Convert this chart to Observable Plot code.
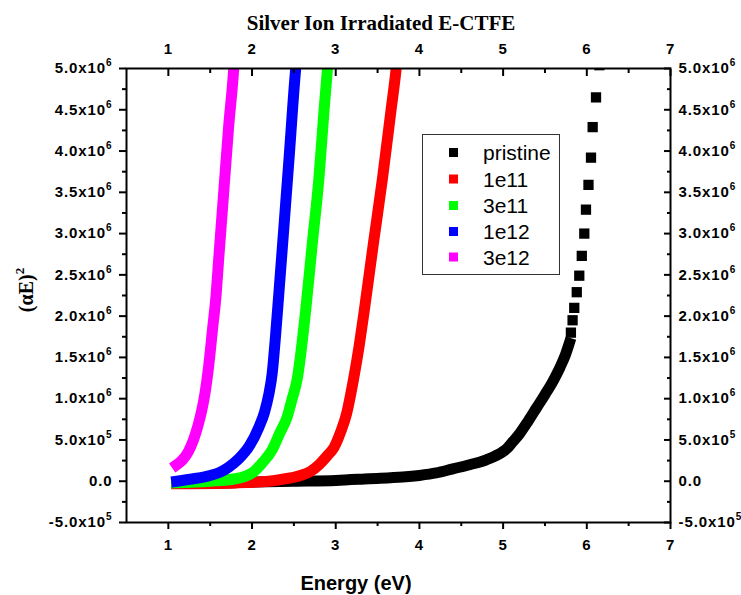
<!DOCTYPE html>
<html><head><meta charset="utf-8">
<script src="https://cdn.jsdelivr.net/npm/d3@7"></script>
<script src="https://cdn.jsdelivr.net/npm/@observablehq/plot@0.6"></script>
<style>
body{margin:0;background:#fff;}
#chart svg{display:block;}
#chart svg g[aria-label$="tick label"] text{letter-spacing:0.9px;}
</style>
</head><body><div id="chart"></div>
<script>
// ---- data (y values in units of 10^6) ----
const seriesNames = ["pristine", "1e11", "3e11", "1e12", "3e12"];
const seriesColors = ["#000000", "#ff0000", "#00ff00", "#0000ff", "#ff00ff"];

const pristineE = [1.10, 1.6, 2.0, 2.5, 3.0, 3.4, 3.8, 4.0, 4.2, 4.4, 4.6, 4.8, 5.0, 5.05, 5.1, 5.2, 5.3, 5.4, 5.5, 5.6, 5.68, 5.74, 5.79];
const pristineV = [-0.02, -0.02, -0.01, 0.0, 0.01, 0.03, 0.05, 0.07, 0.10, 0.15, 0.20, 0.26, 0.36, 0.40, 0.46, 0.58, 0.73, 0.89, 1.05, 1.22, 1.38, 1.52, 1.67];
const pristineTailE = [5.81, 5.83, 5.85, 5.88, 5.91, 5.94, 5.97, 5.99, 6.02, 6.05, 6.07, 6.11, 6.15];
const pristineTailV = [1.80, 1.95, 2.10, 2.29, 2.49, 2.73, 3.00, 3.29, 3.59, 3.92, 4.29, 4.65, 5.04];

const e11E = [1.10, 1.8, 2.2, 2.4, 2.58, 2.70, 2.80, 2.90, 2.98, 3.06, 3.13, 3.21, 3.28, 3.34, 3.45, 3.56, 3.66, 3.72, 3.75];
const e11V = [-0.03, -0.02, 0.0, 0.03, 0.07, 0.12, 0.20, 0.31, 0.41, 0.60, 0.82, 1.22, 1.64, 2.06, 2.88, 3.68, 4.49, 4.98, 5.3];

const e3e11E = [1.10, 1.5, 1.8, 2.0, 2.12, 2.24, 2.33, 2.42, 2.48, 2.54, 2.64, 2.72, 2.80, 2.86, 2.90, 2.93];
const e3e11V = [-0.02, 0.0, 0.03, 0.10, 0.22, 0.38, 0.58, 0.78, 1.00, 1.24, 2.06, 2.88, 3.68, 4.49, 4.98, 5.3];

const e12E = [1.10, 1.3, 1.5, 1.62, 1.72, 1.84, 1.97, 2.08, 2.15, 2.20, 2.24, 2.28, 2.32, 2.38, 2.44, 2.52, 2.55];
const e12V = [0.0, 0.03, 0.07, 0.11, 0.17, 0.27, 0.43, 0.65, 0.84, 1.05, 1.30, 1.75, 2.27, 3.07, 3.88, 4.98, 5.3];

const e3e12E = [1.10, 1.17, 1.24, 1.30, 1.35, 1.40, 1.44, 1.48, 1.53, 1.57, 1.60, 1.66, 1.72, 1.78, 1.80];
const e3e12V = [0.20, 0.26, 0.36, 0.50, 0.66, 0.86, 1.08, 1.38, 1.86, 2.25, 2.67, 3.48, 4.29, 4.98, 5.3];

const xTicks = [1, 2, 3, 4, 5, 6, 7];
const xMinorTicks = [1.5, 2.5, 3.5, 4.5, 5.5, 6.5];
const yTicks = [-0.5, 0, 0.5, 1, 1.5, 2, 2.5, 3, 3.5, 4, 4.5, 5];
const yTickLabels = ["-5.0x10^5", "0.0", "5.0x10^5", "1.0x10^6", "1.5x10^6", "2.0x10^6", "2.5x10^6", "3.0x10^6", "3.5x10^6", "4.0x10^6", "4.5x10^6", "5.0x10^6"];
const yMinorTicks = [-0.25, 0.25, 0.75, 1.25, 1.75, 2.25, 2.75, 3.25, 3.75, 4.25, 4.75];

// ---- build tables ----
const seriesE = [pristineE, e11E, e3e11E, e12E, e3e12E];
const seriesV = [pristineV, e11V, e3e11V, e12V, e3e12V];
const rows = [];
seriesNames.forEach((s, k) => seriesE[k].forEach((E, i) => rows.push({E, v: seriesV[k][i], s})));
const tail = pristineTailE.map((E, i) => ({E, v: pristineTailV[i], s: "pristine"}));

const yLabel = d => yTickLabels[yTicks.indexOf(d)];

const svg = Plot.plot({
  width: 741,
  height: 595,
  marginLeft: 126,
  marginRight: 71,
  marginTop: 68,
  marginBottom: 73,
  style: {fontFamily: "'Liberation Sans', Arial, sans-serif", fontSize: "15px", fontWeight: "bold", color: "black", background: "white"},
  x: {domain: [0.5, 7]},
  y: {domain: [-0.5, 5]},
  color: {domain: seriesNames, range: seriesColors},
  marks: [
    Plot.line(rows, {x: "E", y: "v", z: "s", stroke: "s", strokeWidth: 11, strokeLinecap: "square", strokeLinejoin: "round", curve: "monotone-x", clip: true}),
    Plot.dot(tail, {x: "E", y: "v", fill: "s", symbol: "square", r: 5.8, clip: true}),
    // bottom axis
    Plot.axisX({anchor: "bottom", ticks: xTicks, tickSize: 7, strokeWidth: 2, fill: "none", label: null}),
    Plot.axisX({anchor: "bottom", ticks: xMinorTicks, tickSize: 4, strokeWidth: 2, fill: "none", label: null}),
    Plot.axisX({anchor: "bottom", ticks: xTicks, tickSize: 0, tickPadding: 17, tickFormat: d => String(d), label: null}),
    // top axis
    Plot.axisX({anchor: "top", ticks: xTicks, tickSize: -7, strokeWidth: 2, fill: "none", label: null}),
    Plot.axisX({anchor: "top", ticks: xMinorTicks, tickSize: -4, strokeWidth: 2, fill: "none", label: null}),
    Plot.axisX({anchor: "top", ticks: xTicks, tickSize: 0, tickPadding: 15, tickFormat: d => String(d), label: null}),
    // left axis
    Plot.axisY({anchor: "left", ticks: yTicks, tickSize: 7, strokeWidth: 2, fill: "none", label: null}),
    Plot.axisY({anchor: "left", ticks: yMinorTicks, tickSize: 4, strokeWidth: 2, fill: "none", label: null}),
    Plot.axisY({anchor: "left", ticks: yTicks, tickSize: 0, tickPadding: 14, tickFormat: yLabel, label: null}),
    // right axis
    Plot.axisY({anchor: "right", ticks: yTicks, tickSize: -7, strokeWidth: 2, fill: "none", label: null}),
    Plot.axisY({anchor: "right", ticks: yMinorTicks, tickSize: -4, strokeWidth: 2, fill: "none", label: null}),
    Plot.axisY({anchor: "right", ticks: yTicks, tickSize: 0, tickPadding: 8, tickFormat: yLabel, label: null}),
    Plot.frame({stroke: "black", strokeWidth: 2})
  ]
});
document.getElementById("chart").appendChild(svg);

const S = d3.select(svg);
// superscripts in y tick labels
S.selectAll('g[aria-label="y-axis tick label"] text').each(function () {
  const t = this.textContent;
  const i = t.indexOf("^");
  if (i < 0) return;
  this.textContent = t.slice(0, i);
  d3.select(this).append("tspan").attr("dy", -7).attr("font-size", 10).text(t.slice(i + 1));
});

// title
S.append("text").attr("x", 381).attr("y", 30).attr("text-anchor", "middle")
  .attr("font-family", "'Liberation Serif','Times New Roman',serif").attr("font-size", 21).attr("font-weight", "bold")
  .text("Silver Ion Irradiated E-CTFE");
// x label
S.append("text").attr("x", 356).attr("y", 590).attr("text-anchor", "middle")
  .attr("font-family", "'Liberation Sans',Arial,sans-serif").attr("font-size", 20).attr("font-weight", "bold")
  .text("Energy (eV)");
// y label
const yl = S.append("text").attr("transform", "translate(33,290) rotate(-90)").attr("text-anchor", "middle")
  .attr("font-family", "'Liberation Serif','Times New Roman',serif").attr("font-size", 20).attr("font-weight", "bold");
yl.append("tspan").text("(\u03B1E)");
yl.append("tspan").attr("dy", -9).attr("font-size", 13).text("2");

// legend
const lg = S.append("g");
lg.append("rect").attr("x", 422.5).attr("y", 134.5).attr("width", 137).attr("height", 140)
  .attr("fill", "white").attr("stroke", "#333").attr("stroke-width", 1);
const rowY = [152.5, 179, 205.5, 231.5, 257];
seriesNames.forEach((s, k) => {
  lg.append("rect").attr("x", 449).attr("y", rowY[k] - 4.5).attr("width", 9).attr("height", 9).attr("fill", seriesColors[k]);
  lg.append("text").attr("x", 483).attr("y", rowY[k] + 7.5).attr("text-anchor", "start")
    .attr("font-family", "'Liberation Sans',Arial,sans-serif").attr("font-size", 21).attr("font-weight", "normal")
    .text(s);
});
</script>
</body></html>
